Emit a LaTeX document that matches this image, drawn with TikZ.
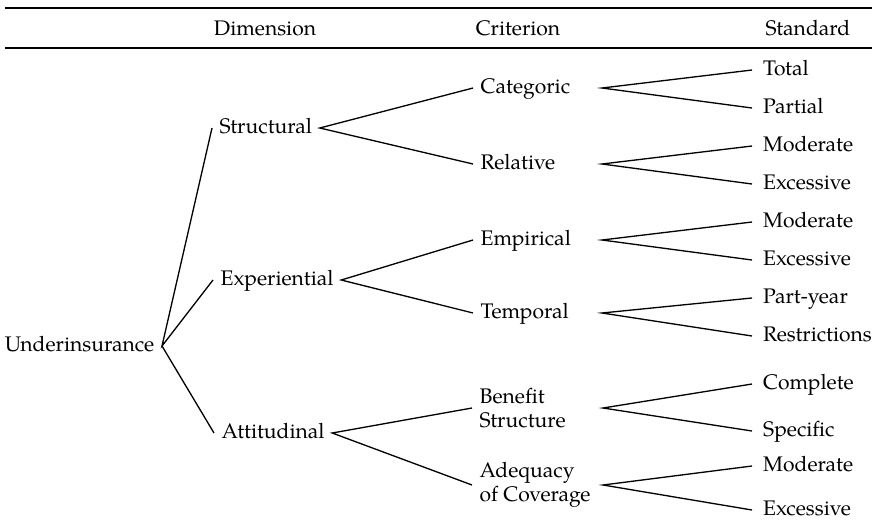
\documentclass[tikz,border=0pt]{standalone}
\usepackage{fontspec}
\setmainfont{TeX Gyre Pagella}
\begin{document}
\begin{tikzpicture}[x=0.02cm,y=-0.02cm,line width=0.75pt,
	every node/.style={font=\fontsize{12}{14}\selectfont},
	lbl/.style={anchor=west,inner xsep=4pt,inner ysep=0pt,text height=9pt,text depth=3pt},
	std/.style={lbl,inner xsep=6pt},
	two/.style={anchor=west,inner xsep=4pt,inner ysep=0pt,align=left}]
	\useasboundingbox (0,0) rectangle (877,522);
	\draw[line width=0.9pt] (5,8) -- (872,8);
	\draw[line width=0.9pt] (5,48) -- (872,48);
	\node[lbl,anchor=center] (hd) at (265,30) {Dimension};
	\node[lbl,anchor=center] (hc) at (518,30) {Criterion};
	\node[lbl,anchor=east] (hs) at (858,30) {Standard};
	
	\node[lbl,anchor=east] (u) at (162,346) {Underinsurance};
	\node[lbl] (s) at (212,128) {Structural};
	\node[lbl] (e) at (213,280) {Experiential};
	\node[lbl] (a) at (214,433) {Attitudinal};
	
	\node[lbl] (cat) at (473,88) {Categoric};
	\node[lbl] (rel) at (473,164) {Relative};
	\node[lbl] (emp) at (473,240) {Empirical};
	\node[lbl] (tmp) at (473,313) {Temporal};
	\node[two] (ben) at (472,408) {Benefit\\Structure};
	\node[two] (adq) at (472,485) {Adequacy\\of Coverage};
	\coordinate (cat-r) at (602,88);
	\coordinate (rel-r) at (602,164);
	\coordinate (emp-r) at (602,240);
	\coordinate (tmp-r) at (602,313);
	\coordinate (ben-r) at (603,408);
	\coordinate (adq-r) at (603,485);
	
	\node[std] (tot) at (752,70) {Total};
	\node[std] (par) at (752,108) {Partial};
	\node[std] (mod1) at (752,146) {Moderate};
	\node[std] (exc1) at (752,184) {Excessive};
	\node[std] (mod2) at (752,222) {Moderate};
	\node[std] (exc2) at (752,260) {Excessive};
	\node[std] (py) at (752,298) {Part-year};
	\node[std] (res) at (752,336) {Restrictions};
	\node[std] (com) at (752,384) {Complete};
	\node[std] (spe) at (752,431) {Specific};
	\node[std] (mod3) at (752,466) {Moderate};
	\node[std] (exc3) at (752,510) {Excessive};
	
	\draw (s.west) -- (u.east) -- (e.west) (u.east) -- (a.west);
	\draw (cat.west) -- (s.east) -- (rel.west);
	\draw (emp.west) -- (e.east) -- (tmp.west);
	\draw (ben.west) -- (a.east) -- (adq.west);
	\draw (tot.west) -- (cat-r) -- (par.west);
	\draw (mod1.west) -- (rel-r) -- (exc1.west);
	\draw (mod2.west) -- (emp-r) -- (exc2.west);
	\draw (py.west) -- (tmp-r) -- (res.west);
	\draw (com.west) -- (ben-r) -- (spe.west);
	\draw (mod3.west) -- (adq-r) -- (exc3.west);
\end{tikzpicture}
\end{document}
